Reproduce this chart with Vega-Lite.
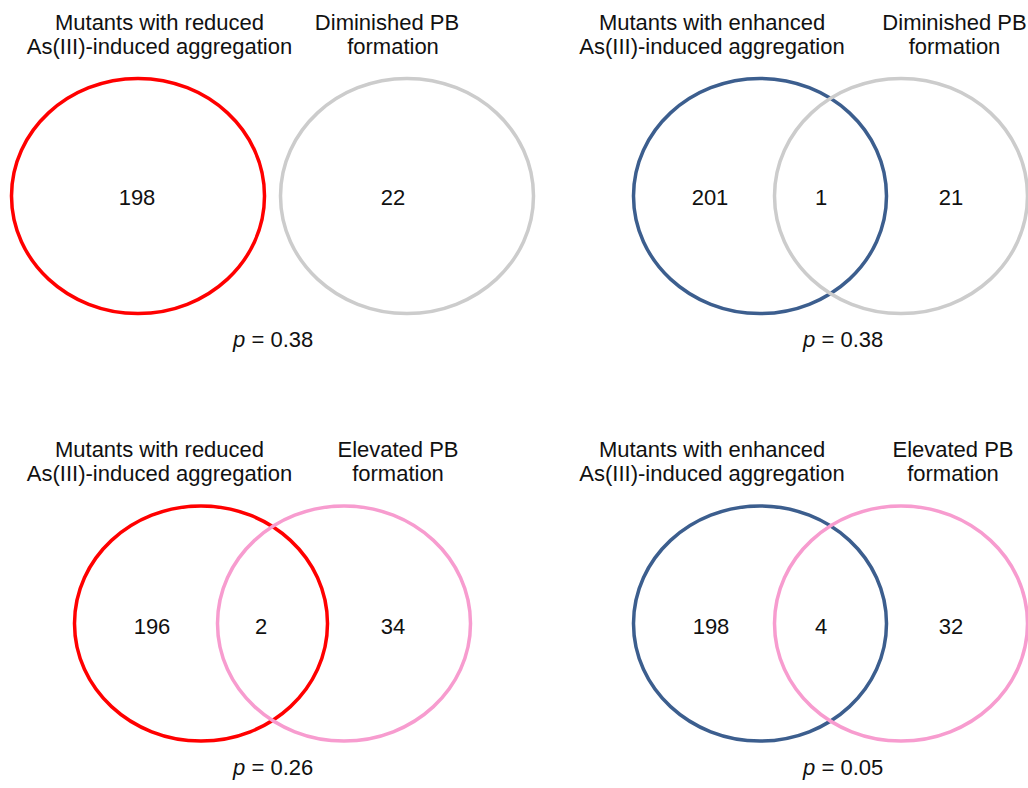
{
  "$schema": "https://vega.github.io/schema/vega-lite/v6.json",
  "width": 1028,
  "height": 788,
  "autosize": {"type": "none"},
  "padding": 0,
  "background": "white",
  "config": {"view": {"stroke": null}, "text": {"font": "Liberation Sans", "fontSize": 22, "color": "#111111"}},
  "datasets": {
    "ellipses": [
      {"panel": "TL", "set": "reduced", "x": 138, "y": 196},
      {"panel": "TL", "set": "diminished", "x": 407, "y": 196},
      {"panel": "TR", "set": "enhanced", "x": 760, "y": 196},
      {"panel": "TR", "set": "diminished", "x": 901, "y": 196},
      {"panel": "BL", "set": "reduced", "x": 201, "y": 623.5},
      {"panel": "BL", "set": "elevated", "x": 344, "y": 623.5},
      {"panel": "BR", "set": "enhanced", "x": 760, "y": 623.5},
      {"panel": "BR", "set": "elevated", "x": 901, "y": 623.5}
    ],
    "counts": [
      {"panel": "TL", "n": "198", "x": 137, "y": 198},
      {"panel": "TL", "n": "22", "x": 393, "y": 198},
      {"panel": "TR", "n": "201", "x": 710, "y": 198},
      {"panel": "TR", "n": "1", "x": 821, "y": 198},
      {"panel": "TR", "n": "21", "x": 951, "y": 198},
      {"panel": "BL", "n": "196", "x": 152, "y": 627},
      {"panel": "BL", "n": "2", "x": 261, "y": 627},
      {"panel": "BL", "n": "34", "x": 393, "y": 627},
      {"panel": "BR", "n": "198", "x": 711, "y": 627},
      {"panel": "BR", "n": "4", "x": 821, "y": 627},
      {"panel": "BR", "n": "32", "x": 951, "y": 627}
    ],
    "titles": [
      {"t": "Mutants with reduced", "x": 159.5, "y": 29.5},
      {"t": "As(III)-induced aggregation", "x": 159.5, "y": 53.5},
      {"t": "Diminished PB", "x": 387, "y": 29.5},
      {"t": "formation", "x": 393, "y": 53.5},
      {"t": "Mutants with enhanced", "x": 712, "y": 29.5},
      {"t": "As(III)-induced aggregation", "x": 712, "y": 53.5},
      {"t": "Diminished PB", "x": 954.5, "y": 29.5},
      {"t": "formation", "x": 954.5, "y": 53.5},
      {"t": "Mutants with reduced", "x": 159.5, "y": 457},
      {"t": "As(III)-induced aggregation", "x": 159.5, "y": 481},
      {"t": "Elevated PB", "x": 398, "y": 457},
      {"t": "formation", "x": 398, "y": 481},
      {"t": "Mutants with enhanced", "x": 712, "y": 457},
      {"t": "As(III)-induced aggregation", "x": 712, "y": 481},
      {"t": "Elevated PB", "x": 953, "y": 457},
      {"t": "formation", "x": 953, "y": 481}
    ],
    "pvals": [
      {"panel": "TL", "v": "= 0.38", "x": 233, "y": 346.5},
      {"panel": "TR", "v": "= 0.38", "x": 803, "y": 346.5},
      {"panel": "BL", "v": "= 0.26", "x": 233, "y": 775},
      {"panel": "BR", "v": "= 0.05", "x": 803, "y": 775}
    ]
  },
  "layer": [
    {
      "data": {"name": "ellipses"},
      "mark": {
        "type": "point",
        "filled": false,
        "clip": true,
        "opacity": 1,
        "strokeWidth": 3.5,
        "size": 64009,
        "shape": "M 1 0 C 1 0.513 0.5523 0.929 0 0.929 C -0.5523 0.929 -1 0.513 -1 0 C -1 -0.513 -0.5523 -0.929 0 -0.929 C 0.5523 -0.929 1 -0.513 1 0 Z"
      },
      "encoding": {
        "x": {"field": "x", "type": "quantitative", "scale": {"domain": [0, 1028], "nice": false, "zero": false}, "axis": null},
        "y": {"field": "y", "type": "quantitative", "scale": {"domain": [0, 788], "nice": false, "zero": false, "reverse": true}, "axis": null},
        "color": {"field": "set", "type": "nominal", "legend": null,
          "scale": {"domain": ["reduced", "enhanced", "diminished", "elevated"], "range": ["#ff0000", "#3c5e8e", "#cccccc", "#f79ccf"]}}
      }
    },
    {
      "data": {"name": "counts"},
      "mark": {"type": "text", "align": "center", "baseline": "middle"},
      "encoding": {
        "x": {"field": "x", "type": "quantitative", "scale": {"domain": [0, 1028], "nice": false, "zero": false}, "axis": null},
        "y": {"field": "y", "type": "quantitative", "scale": {"domain": [0, 788], "nice": false, "zero": false, "reverse": true}, "axis": null},
        "text": {"field": "n", "type": "nominal"}
      }
    },
    {
      "data": {"name": "titles"},
      "mark": {"type": "text", "align": "center", "baseline": "alphabetic"},
      "encoding": {
        "x": {"field": "x", "type": "quantitative", "scale": {"domain": [0, 1028], "nice": false, "zero": false}, "axis": null},
        "y": {"field": "y", "type": "quantitative", "scale": {"domain": [0, 788], "nice": false, "zero": false, "reverse": true}, "axis": null},
        "text": {"field": "t", "type": "nominal"}
      }
    },
    {
      "data": {"name": "pvals"},
      "mark": {"type": "text", "align": "left", "baseline": "alphabetic", "fontStyle": "italic", "text": "p"},
      "encoding": {
        "x": {"field": "x", "type": "quantitative", "scale": {"domain": [0, 1028], "nice": false, "zero": false}, "axis": null},
        "y": {"field": "y", "type": "quantitative", "scale": {"domain": [0, 788], "nice": false, "zero": false, "reverse": true}, "axis": null}
      }
    },
    {
      "data": {"name": "pvals"},
      "mark": {"type": "text", "align": "left", "baseline": "alphabetic", "dx": 18.5},
      "encoding": {
        "x": {"field": "x", "type": "quantitative", "scale": {"domain": [0, 1028], "nice": false, "zero": false}, "axis": null},
        "y": {"field": "y", "type": "quantitative", "scale": {"domain": [0, 788], "nice": false, "zero": false, "reverse": true}, "axis": null},
        "text": {"field": "v", "type": "nominal"}
      }
    }
  ]
}
